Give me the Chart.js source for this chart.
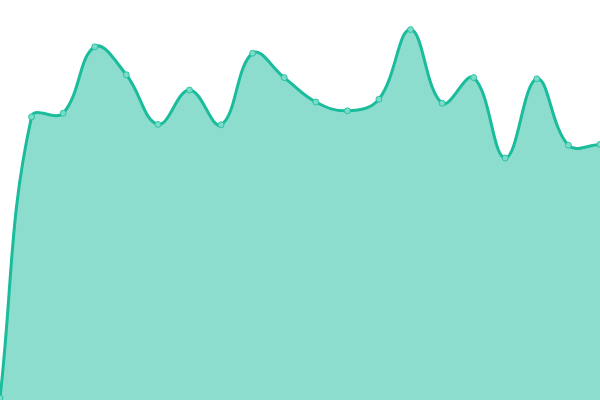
<!DOCTYPE html>
<html>
<head>
<meta charset="utf-8">
<script src="https://cdn.jsdelivr.net/npm/chart.js@4"></script>
<style>
  html, body { margin: 0; padding: 0; background: #fff; }
  #wrap { width: 600px; height: 400px; position: relative; }
</style>
</head>
<body>
<div id="wrap"><canvas id="cnvArea"></canvas></div>
<script>
// values (y scale 0..100)
const labels = ['1', '2', '3', '4', '5', '6', '7', '8', '9', '10',
                '11', '12', '13', '14', '15', '16', '17', '18', '19', '20'];
const values = [0.5, 70.8, 71.7, 88.3, 81.3, 68.9, 77.5, 68.8, 86.7, 80.6,
                74.5, 72.3, 75.2, 92.6, 74.2, 80.6, 60.5, 80.3, 63.7, 63.9];
const yMin = 0;
const yMax = 100;

const lineColor = '#1abc9c';

new Chart(document.querySelector('#cnvArea'), {
    type: 'line',
    data: {
        labels: labels,
        datasets: [{
            data: values,
            borderColor: lineColor,
            borderWidth: 3,
            backgroundColor: 'rgba(26, 188, 156, 0.5)',
            fill: 'origin',
            tension: 0.4,
            pointRadius: 3,
            pointBorderWidth: 1,
            pointBackgroundColor: 'rgba(120, 220, 200, 1)',
            pointBorderColor: 'rgba(26, 188, 156, 0.8)'
        }]
    },
    options: {
        responsive: true,
        maintainAspectRatio: false,
        animation: false,
        layout: { padding: 0, autoPadding: false },
        plugins: {
            legend: { display: false },
            tooltip: { enabled: false }
        },
        scales: {
            x: { display: false },
            y: { display: false, min: yMin, max: yMax }
        }
    }
});
</script>
</body>
</html>
